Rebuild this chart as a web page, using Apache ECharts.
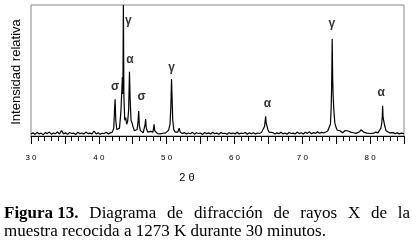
<!DOCTYPE html>
<html><head><meta charset="utf-8">
<script src="https://cdn.jsdelivr.net/npm/echarts@6/dist/echarts.min.js"></script>
<style>html,body{margin:0;padding:0;background:#fff}#c{width:412px;height:245px}</style>
</head><body><div id="c"></div>
<script>
const twoTheta = [
30.0,30.3,30.6,30.9,31.2,31.5,31.8,32.1,32.4,32.7,
33.0,33.3,33.6,33.9,34.2,34.5,34.8,35.1,35.4,35.7,
36.0,36.3,36.6,36.9,37.2,37.5,37.8,38.1,38.4,38.7,
39.0,39.3,39.6,39.9,40.2,40.5,40.8,41.1,41.4,41.7,
42.0,42.2,42.32,42.4,42.5,42.65,42.85,43.05,43.25,43.35,
43.47,43.55,43.62,43.7,43.82,43.97,44.1,44.25,44.4,44.52,
44.62,44.75,44.9,45.05,45.25,45.45,45.65,45.8,45.88,45.97,
46.15,46.35,46.55,46.72,46.83,46.9,47.0,47.2,47.4,47.6,
47.8,47.98,48.1,48.15,48.25,48.45,48.65,48.85,49.05,49.25,
49.45,49.65,49.85,50.05,50.3,50.5,50.62,50.72,50.8,50.9,
51.05,51.25,51.45,51.65,51.85,52.0,52.3,52.6,52.9,53.2,
53.5,53.8,54.1,54.4,54.7,55.0,55.3,55.6,55.9,56.2,
56.5,56.8,57.1,57.4,57.7,58.0,58.3,58.6,58.9,59.2,
59.5,59.8,60.1,60.4,60.7,61.0,61.3,61.6,61.9,62.2,
62.5,62.8,63.1,63.4,63.7,64.0,64.25,64.42,64.52,64.6,
64.68,64.78,64.92,65.1,65.35,65.65,65.95,66.25,66.55,66.85,
67.15,67.45,67.75,68.05,68.35,68.65,68.95,69.25,69.55,69.85,
70.15,70.45,70.75,71.05,71.35,71.65,71.95,72.25,72.55,72.85,
73.15,73.45,73.75,74.0,74.15,74.25,74.33,74.41,74.48,74.55,
74.65,74.8,74.95,75.15,75.35,75.55,75.75,75.95,76.15,76.35,
76.55,76.75,76.95,77.15,77.35,77.55,77.75,77.95,78.2,78.45,
78.65,78.85,79.05,79.3,79.55,79.8,80.05,80.3,80.55,80.85,
81.15,81.4,81.6,81.72,81.8,81.85,81.92,82.0,82.15,82.35,
82.6,82.85,83.1,83.4,83.7,84.0,84.3,84.6,85.0
];
const intensity = [
1.5,2.5,1.2,2.8,1.6,2.2,1.0,2.6,1.8,3.0,
1.4,2.3,1.7,3.2,1.5,4.2,1.6,2.4,1.3,2.7,
1.9,2.2,1.1,2.9,1.7,2.3,1.5,3.0,1.8,2.2,
1.6,3.8,1.6,2.5,1.4,2.1,1.9,2.8,1.5,2.4,
3.0,6,20,28,12,5,3.5,6,18,30,
45,32,100,30,12,14,9,11,20,49,
28,12,10,7,4,3,5,12,19,8,
4,3,2.5,4,9,13,6,3,2.2,3.5,
2.0,3,7,9,4,2.5,1.8,2.8,1.6,2.5,
2.1,3.2,2.4,3.5,4.5,9,22,43.5,30,12,
5,3,2.2,3,6,3,1.8,2.6,1.5,2.3,
1.7,2.8,1.4,2.5,1.9,2.3,1.2,2.7,1.8,2.4,
1.5,2.9,1.7,2.2,1.4,2.6,1.9,2.1,1.3,2.5,
1.8,2.3,1.6,2.8,1.5,2.2,1.9,2.7,1.3,2.4,
1.7,2.5,1.6,2.3,1.9,2.8,3.5,7,11,15,
10,9,5,3,2.1,2.6,1.5,2.4,1.8,2.9,
1.6,2.3,1.4,2.7,1.9,2.2,1.5,3.0,1.8,2.5,
1.6,2.8,2.0,3.2,1.7,2.6,2.0,3.3,2.1,2.8,
2.3,3.0,3.8,5,9,20,37,74,45,31,
20,10,7,4.5,3.5,4,3,2.5,3.5,4.2,
5.5,3.8,4.5,3,3.6,2.5,2.8,2.0,2.5,3.2,
4.8,4,3,2.7,2.2,2.6,1.9,2.5,2.2,3.0,
2.4,3.2,6,10,15,23,14,12,8,4,
3,2.4,2.0,2.6,1.8,2.4,1.6,2.2,1.8
];
const peakPos = [42.4, 44.35, 44.6, 46.32, 50.74, 64.85, 74.35, 81.62];
const peakLabelLevel = [37.4, 87.8, 58, 29.8, 51.9, 24.4, 85.5, 32.8];
const peakPhase = ['σ','γ','α','σ','γ','α','γ','α'];
const captionLine1 = [['Figura 13.', true], ['Diagrama', false], ['de', false], ['difracción', false], ['de', false], ['rayos', false], ['X', false], ['de', false], ['la', false]];
const captionLine2 = 'muestra recocida a 1273 K durante 30 minutos.';

const chart = echarts.init(document.getElementById('c'), null, {renderer: 'canvas'});
const serif = '"Liberation Serif","Times New Roman",serif';
const sans = '"Liberation Sans",Arial,sans-serif';
const capSize = 17;

// justify caption line 1 between x=4 and x=410
const ctx = document.createElement('canvas').getContext('2d');
const widths = captionLine1.map(([w, b]) => { ctx.font = (b ? 'bold ' : '') + capSize + 'px ' + serif; return ctx.measureText(w).width; });
const totalW = widths.reduce((a, b) => a + b, 0);
const gap = (410 - 4 - totalW) / (captionLine1.length - 1);
let cx = 4;
const capEls = captionLine1.map(([w, b], i) => {
  const el = {type: 'text', left: cx, top: 205, style: {text: w, font: (b ? 'bold ' : '') + capSize + 'px ' + serif, fill: '#000'}};
  cx += widths[i] + gap;
  return el;
});
capEls.push({type: 'text', left: 4, top: 223, style: {text: captionLine2, font: capSize + 'px ' + serif, fill: '#000'}});

chart.setOption({
  animation: false,
  backgroundColor: '#fff',
  grid: {left: 31, right: 8, top: 5, bottom: 109, show: true, borderColor: '#888', borderWidth: 1},
  xAxis: {
    type: 'value', min: 30, max: 85, interval: 5,
    axisLine: {onZero: false, lineStyle: {color: '#000', width: 1}},
    axisTick: {show: true, length: 8, lineStyle: {color: '#000'}},
    minorTick: {show: true, splitNumber: 5, length: 5, lineStyle: {color: '#000'}},
    splitLine: {show: false},
    axisLabel: {fontSize: 8, fontFamily: sans, color: '#000', margin: 18,
      formatter: v => (v % 10 === 0 ? String(v).split('').join(' ') : '')}
  },
  yAxis: {type: 'value', min: 0, max: 100, show: false},
  series: [
    {type: 'line', data: twoTheta.map((x, i) => [x, intensity[i]]), showSymbol: false, symbol: 'none',
     lineStyle: {color: '#000', width: 1.2}, clip: true, z: 3},
    {type: 'scatter', data: peakPos.map((x, i) => [x, peakLabelLevel[i], peakPhase[i]]), symbolSize: 0,
     label: {show: true, position: 'inside', formatter: p => p.data[2], fontSize: 12, fontWeight: 'bold', fontFamily: sans, color: '#000'}, z: 4}
  ],
  graphic: [
    {type: 'text', x: 16, y: 72, rotation: Math.PI / 2,
     style: {text: 'Intensidad relativa', font: '13px ' + sans, fill: '#000', align: 'center', verticalAlign: 'middle'}},
    {type: 'text', x: 187, y: 178,
     style: {text: '2 θ', font: '11px ' + sans, fill: '#000', align: 'center', verticalAlign: 'middle'}}
  ].concat(capEls)
});
</script></body></html>
